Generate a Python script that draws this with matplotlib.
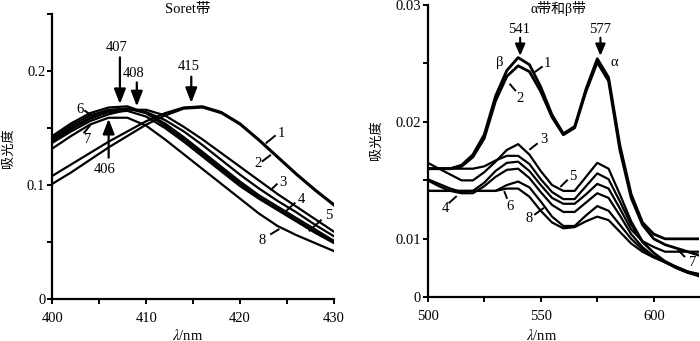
import matplotlib
matplotlib.use("Agg")
import matplotlib.pyplot as plt
import numpy as np

plt.rcParams['font.family'] = ['Liberation Serif', 'Noto Sans CJK SC']
plt.rcParams['mathtext.fontset'] = 'stix'

# ---------------- data: Soret band ----------------
soret_x = [400, 402, 404, 406, 408, 410, 412, 414, 416, 418, 420, 422, 424, 426, 428, 430]
soret_1 = [0.108, 0.118, 0.128, 0.138, 0.147, 0.156, 0.163, 0.168, 0.169, 0.164, 0.154, 0.140, 0.125, 0.110, 0.096, 0.083]
soret_2 = [0.101, 0.111, 0.122, 0.133, 0.143, 0.153, 0.161, 0.167, 0.168, 0.163, 0.153, 0.139, 0.124, 0.109, 0.095, 0.082]
soret_3 = [0.137, 0.147, 0.156, 0.162, 0.166, 0.166, 0.161, 0.151, 0.140, 0.128, 0.116, 0.104, 0.092, 0.081, 0.070, 0.059]
soret_4 = [0.139, 0.150, 0.159, 0.165, 0.167, 0.164, 0.157, 0.147, 0.135, 0.122, 0.109, 0.097, 0.086, 0.076, 0.065, 0.055]
soret_5 = [0.141, 0.152, 0.161, 0.166, 0.167, 0.163, 0.154, 0.142, 0.129, 0.116, 0.103, 0.091, 0.081, 0.071, 0.061, 0.051]
soret_6 = [0.143, 0.154, 0.163, 0.168, 0.169, 0.163, 0.152, 0.140, 0.127, 0.114, 0.101, 0.089, 0.079, 0.069, 0.059, 0.050]
soret_7 = [0.138, 0.149, 0.158, 0.164, 0.165, 0.160, 0.150, 0.138, 0.125, 0.112, 0.099, 0.088, 0.078, 0.068, 0.058, 0.049]
soret_8 = [0.132, 0.143, 0.153, 0.159, 0.159, 0.152, 0.140, 0.127, 0.114, 0.101, 0.088, 0.075, 0.064, 0.056, 0.049, 0.042]
soret_series = [soret_1, soret_2, soret_3, soret_4, soret_5, soret_6, soret_7, soret_8]

# ---------------- data: alpha / beta bands ----------------
ab_x = [500, 505, 510, 515, 520, 525, 530, 535, 540, 545, 550, 555, 560,
        565, 570, 575, 580, 585, 590, 595, 600, 605, 610, 615, 620]
ab_1 = [0.0160, 0.0160, 0.0160, 0.0163, 0.0172, 0.0189, 0.0222, 0.0244, 0.0255, 0.0249, 0.0230, 0.0206, 0.0190,
        0.0196, 0.0228, 0.0254, 0.0238, 0.0180, 0.0138, 0.0114, 0.0104, 0.0100, 0.0100, 0.0100, 0.0100]
ab_2 = [0.0160, 0.0160, 0.0160, 0.0162, 0.0170, 0.0186, 0.0218, 0.0239, 0.0248, 0.0243, 0.0226, 0.0204, 0.0189,
        0.0195, 0.0226, 0.0251, 0.0235, 0.0176, 0.0135, 0.0112, 0.0100, 0.0095, 0.0092, 0.0089, 0.0086]
ab_3 = [0.0165, 0.0160, 0.0155, 0.0150, 0.0150, 0.0157, 0.0166, 0.0176, 0.0181, 0.0172, 0.0158, 0.0146, 0.0141,
        0.0141, 0.0153, 0.0165, 0.0160, 0.0138, 0.0115, 0.0098, 0.0088, 0.0080, 0.0075, 0.0071, 0.0069]
ab_4 = [0.0150, 0.0145, 0.0141, 0.0139, 0.0139, 0.0145, 0.0153, 0.0159, 0.0160, 0.0152, 0.0140, 0.0129, 0.0123,
        0.0123, 0.0131, 0.0139, 0.0135, 0.0120, 0.0104, 0.0093, 0.0085, 0.0080, 0.0076, 0.0072, 0.0069]
ab_5 = [0.0160, 0.0160, 0.0160, 0.0160, 0.0160, 0.0162, 0.0167, 0.0171, 0.0171, 0.0164, 0.0151, 0.0140, 0.0134,
        0.0134, 0.0145, 0.0156, 0.0151, 0.0132, 0.0112, 0.0097, 0.0088, 0.0081, 0.0076, 0.0072, 0.0070]
ab_6 = [0.0141, 0.0141, 0.0141, 0.0141, 0.0141, 0.0141, 0.0141, 0.0146, 0.0149, 0.0144, 0.0132, 0.0119, 0.0111,
        0.0111, 0.0120, 0.0128, 0.0124, 0.0112, 0.0100, 0.0091, 0.0085, 0.0080, 0.0076, 0.0072, 0.0069]
ab_7 = [0.0151, 0.0147, 0.0143, 0.0140, 0.0141, 0.0148, 0.0158, 0.0165, 0.0166, 0.0158, 0.0146, 0.0135, 0.0130,
        0.0130, 0.0138, 0.0147, 0.0143, 0.0126, 0.0108, 0.0098, 0.0093, 0.0089, 0.0089, 0.0089, 0.0089]
ab_8 = [0.0141, 0.0141, 0.0141, 0.0141, 0.0141, 0.0141, 0.0141, 0.0143, 0.0143, 0.0136, 0.0124, 0.0114, 0.0109,
        0.0110, 0.0115, 0.0119, 0.0116, 0.0106, 0.0096, 0.0089, 0.0084, 0.0080, 0.0075, 0.0071, 0.0068]
ab_series = [ab_1, ab_2, ab_3, ab_4, ab_5, ab_6, ab_7, ab_8]

W, H = 700, 341
fig = plt.figure(figsize=(W / 100, H / 100), dpi=100)

def frac_axes(x0, y0, x1, y1):
    return fig.add_axes([x0 / W, 1 - y1 / H, (x1 - x0) / W, (y1 - y0) / H])

ax1 = frac_axes(52.3, 14, 334, 299)
ax2 = frac_axes(427.7, 5, 699, 297.3)

NUM_FS = 10.5
CJK = ['Noto Sans CJK SC']

def style(ax):
    for s in ['top', 'right']:
        ax.spines[s].set_visible(False)
    for s in ['left', 'bottom']:
        ax.spines[s].set_linewidth(1.6)
    ax.tick_params(which='both', direction='out', length=3.5, width=1.4, labelsize=NUM_FS)
    ax.tick_params(axis='x', pad=6)
    ax.tick_params(axis='y', pad=1.5)

# ---- left panel ----
style(ax1)
for s in soret_series:
    ax1.plot(soret_x, s, color='black', lw=1.6, solid_joinstyle='round')
ax1.set_xlim(400, 430)
ax1.set_ylim(0, 0.25)
ax1.set_xticks([400, 410, 420, 430])
ax1.set_xticklabels(['400', '410', '420', '430'])
ax1.set_xticks([405, 415, 425], minor=True)
ax1.set_yticks([0, 0.1, 0.2])
ax1.set_yticklabels(['0', '0.1', '0.2'])
ax1.set_yticks([0.05, 0.15, 0.25], minor=True)

arrow_kw = dict(arrowstyle='-|>,head_length=0.9,head_width=0.35', lw=1.6, color='black', shrinkA=0, shrinkB=0)
for (x, ytail, ytip, lbl, ylbl) in [(407.2, 0.212, 0.171, '407', 0.221),
                                     (409.0, 0.190, 0.169, '408', 0.198),
                                     (414.8, 0.195, 0.172, '415', 0.204)]:
    ax1.annotate('', xy=(x, ytip), xytext=(x, ytail), arrowprops=arrow_kw)
    ax1.text(x - 0.3, ylbl, lbl, ha='center', va='center', fontsize=10.5)
ax1.annotate('', xy=(406.0, 0.158), xytext=(406.0, 0.124), arrowprops=arrow_kw)
ax1.text(405.6, 0.114, '406', ha='center', va='center', fontsize=10.5)

left_labels = [('1', 424.4, 0.145, (422.8, 0.137), (423.7, 0.143)),
               ('2', 421.9, 0.119, (422.4, 0.121), (423.2, 0.126)),
               ('3', 424.6, 0.102, (423.3, 0.096), (423.9, 0.1006)),
               ('4', 426.5, 0.087, (425.0, 0.078), (425.8, 0.084)),
               ('5', 429.4, 0.073, (427.4, 0.060), (428.6, 0.069)),
               ('8', 422.3, 0.051, (423.3, 0.057), (424.1, 0.061)),
               ('6', 402.9, 0.1665, (403.5, 0.165), (404.3, 0.160)),
               ('7', 403.8, 0.140, (403.4, 0.146), (404.0, 0.152))]
for t, tx, ty, p0, p1 in left_labels:
    ax1.plot([p0[0], p1[0]], [p0[1], p1[1]], color='black', lw=1.4)
    ax1.text(tx, ty, t, ha='center', va='center', fontsize=10.5)

# ---- right panel ----
style(ax2)
for i, s in enumerate(ab_series):
    ax2.plot(ab_x, s, color='black', lw=2.0 if i < 2 else 1.6, solid_joinstyle='round')
ax2.set_xlim(500, 620)
ax2.set_ylim(0.005, 0.03)
ax2.set_xticks([500, 550, 600])
ax2.set_xticklabels(['500', '550', '600'])
ax2.set_xticks([525, 575], minor=True)
ax2.set_yticks([0.005, 0.01, 0.02, 0.03])
ax2.set_yticklabels(['0', '0.01', '0.02', '0.03'])
ax2.set_yticks([0.015, 0.025], minor=True)

arrow_kw2 = dict(arrowstyle='-|>,head_length=0.7,head_width=0.3', lw=1.5, color='black', shrinkA=0, shrinkB=0)
for x, lbl in [(540.9, '541'), (576.4, '577')]:
    ax2.annotate('', xy=(x, 0.02565), xytext=(x, 0.0272), arrowprops=arrow_kw2)
    ax2.text(x - 0.3, 0.0279, lbl, ha='center', va='center', fontsize=10.5)
ax2.text(532.0, 0.0251, 'β', ha='center', va='center', fontsize=10.5)
ax2.text(582.5, 0.0251, 'α', ha='center', va='center', fontsize=10.5)

right_labels = [('1', 552.8, 0.0250, (547.6, 0.0243), (550.5, 0.0247)),
                ('2', 540.9, 0.0220, (536.5, 0.0232), (538.7, 0.0227)),
                ('3', 551.3, 0.0185, (545.3, 0.01767), (548.3, 0.01812)),
                ('5', 564.3, 0.0153, (559.0, 0.0145), (561.6, 0.0150)),
                ('4', 507.7, 0.0126, (509.6, 0.0131), (512.5, 0.0136)),
                ('6', 536.2, 0.0128, (534.0, 0.0140), (535.0, 0.0135)),
                ('8', 545.0, 0.0117, (547.5, 0.0121), (551.0, 0.0126)),
                ('7', 617.0, 0.0080, (611.0, 0.0090), (613.5, 0.0085))]
for t, tx, ty, p0, p1 in right_labels:
    ax2.plot([p0[0], p1[0]], [p0[1], p1[1]], color='black', lw=1.4)
    ax2.text(tx, ty, t, ha='center', va='center', fontsize=10.5)

# ---- titles & axis labels ----
fig.text(188 / W, 1 - 10 / H, 'Soret带', ha='center', va='center', fontsize=10.5)
fig.text(558 / W, 1 - 8 / H, 'α带和β带', ha='center', va='center', fontsize=10)
fig.text(188 / W, 1 - 335 / H, r'$\lambda$/nm', ha='center', va='center', fontsize=10.5)
fig.text(541.7 / W, 1 - 335 / H, r'$\lambda$/nm', ha='center', va='center', fontsize=10.5)
fig.text(8 / W, 1 - 148 / H, '吸光度', ha='center', va='center', rotation=90, fontsize=9.5, family=CJK)
fig.text(376 / W, 1 - 140 / H, '吸光度', ha='center', va='center', rotation=90, fontsize=9.5, family=CJK)

fig.savefig('out.png', dpi=100)
